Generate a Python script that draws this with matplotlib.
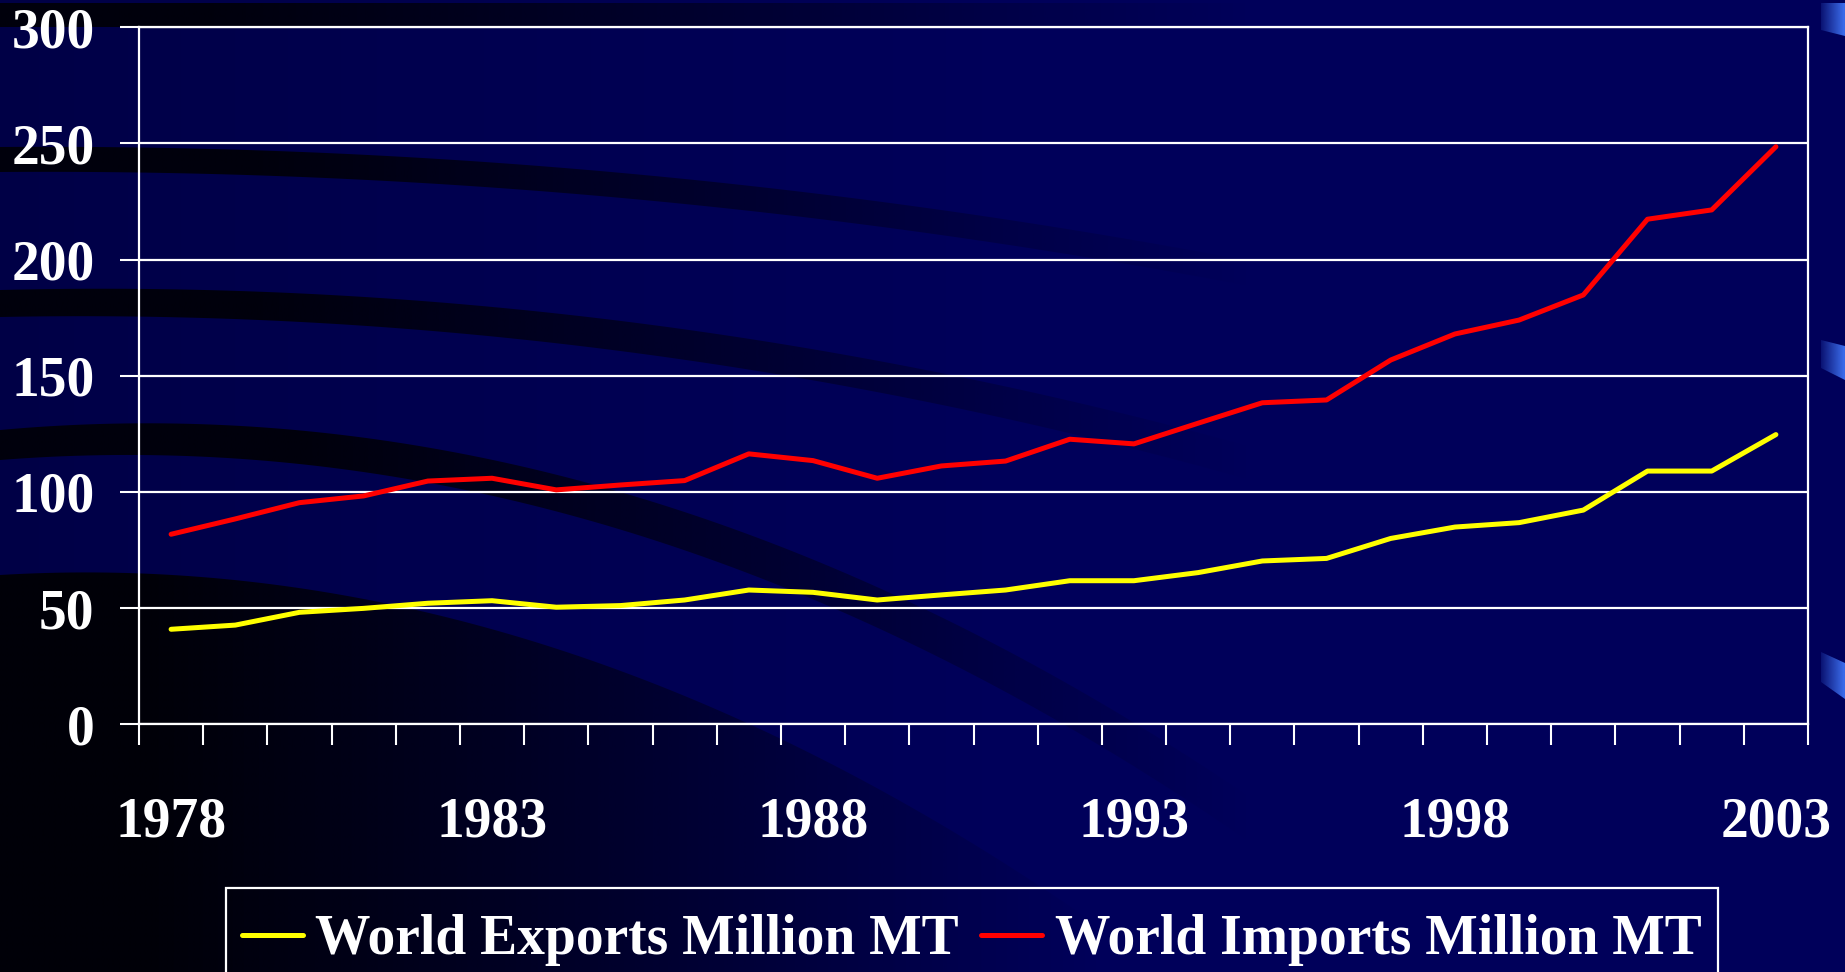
import numpy as np
import matplotlib
matplotlib.use("Agg")
import matplotlib.pyplot as plt
from matplotlib.patches import Polygon, Rectangle
from matplotlib.colors import to_rgb

# values (million metric tons)
years = [1978, 1979, 1980, 1981, 1982, 1983, 1984, 1985, 1986, 1987, 1988, 1989, 1990,
         1991, 1992, 1993, 1994, 1995, 1996, 1997, 1998, 1999, 2000, 2001, 2002, 2003]
exports = [40.9, 42.7, 48.2, 49.9, 52.1, 53.2, 50.4, 51.1, 53.5, 57.8, 56.8, 53.5, 55.7,
           57.8, 61.8, 61.8, 65.3, 70.3, 71.4, 80.0, 84.9, 86.8, 92.2, 109.0, 109.0, 124.7]
imports = [81.8, 88.4, 95.4, 98.3, 104.7, 105.9, 100.9, 103.0, 104.9, 116.4, 113.5, 105.9, 111.2,
           113.3, 122.7, 120.7, 129.6, 138.4, 139.6, 156.8, 168.0, 174.0, 184.8, 217.4, 221.4, 248.6]
year_labels = ['1978', '1983', '1988', '1993', '1998', '2003']
y_ticks = [0, 50, 100, 150, 200, 250, 300]

W, H = 1845, 972
NAVY = '#00005a'
FONT = dict(family='Liberation Serif', weight='bold', size=40, color='white')


def shade(ax, pts_top, pts_bot, color, a0, a1, x0, x1):
    """fill a band with a horizontal alpha ramp (background decoration)"""
    verts = list(pts_top) + list(pts_bot[::-1])
    poly = Polygon(verts, closed=True, facecolor='none', edgecolor='none')
    ax.add_patch(poly)
    xs = np.linspace(0, W, 600)
    ramp = np.clip((xs - x0) / (x1 - x0), 0, 1)
    img = np.zeros((2, 600, 4))
    img[..., :3] = to_rgb(color)
    img[..., 3] = a0 + (a1 - a0) * ramp
    im = ax.imshow(img, extent=(0, W, H, 0), aspect='auto', interpolation='bilinear')
    im.set_clip_path(poly)


def curve(y0, b, c, w0, w1, xmax):
    xs = np.linspace(0, xmax, 100)
    top = y0 + b * xs + c * xs ** 2
    return list(zip(xs, top)), list(zip(xs, top + w0 + w1 * xs))


fig = plt.figure(figsize=(W / 100, H / 100), dpi=100, facecolor=NAVY)

# background swooshes
bg = fig.add_axes([0, 0, 1, 1], zorder=0)
bg.set_facecolor(NAVY)
shade(bg, [(0, 0), (W, 0)], [(0, H), (W, H)], '#000000', 0.22, 0.0, 0, 1000)
shade(bg, [(0, 3), (W, 3)], [(0, 27), (W, 27)], '#00000c', 1.0, 0.0, 200, 1250)
t, b = curve(147, -0.0073, 7.89e-5, 25, 0.0, 1300)
shade(bg, t, b, '#00000c', 1.0, 0.0, 250, 1250)
t, b = curve(290, -0.0245, 1.198e-4, 27, 0.005, 1300)
shade(bg, t, b, '#00000c', 1.0, 0.0, 250, 1250)
t, b = curve(430, -0.0908, 3.077e-4, 30, 0.012, 1250)
shade(bg, t, b, '#00000c', 1.0, 0.0, 300, 1250)
xs = np.linspace(0, 1170, 100)
edge = 575 - 0.0595 * xs + 3.45e-4 * xs ** 2
shade(bg, list(zip(xs, edge)), list(zip(xs, np.full_like(xs, H))),
      '#000008', 1.0, 0.0, 150, 1100)
for top_l, top_r, hgt in ((3, 3, 27), (340, 346, 28), (652, 663, 30)):
    shade(bg, [(1821, top_l), (1845, top_r)], [(1821, top_l + hgt), (1845, top_r + hgt + 6)],
          '#3a6ae8', 0.0, 1.0, 1818, 1845)
bg.set_xlim(0, W)
bg.set_ylim(H, 0)
bg.axis('off')

# main chart
ax = fig.add_axes([139 / W, (H - 724.3) / H, (1808 - 139) / W, (724.3 - 27.3) / H], zorder=1)
ax.set_facecolor('none')
x = np.arange(len(years))
ax.plot(x, exports, color='#ffff00', lw=3.6, solid_capstyle='round',
        label='World Exports Million MT', zorder=3)
ax.plot(x, imports, color='#ff0000', lw=3.6, solid_capstyle='round',
        label='World Imports Million MT', zorder=3)

ax.set_xlim(-0.5, len(years) - 0.5)
ax.set_ylim(0, 300)
ax.set_yticks(y_ticks)
ax.set_yticklabels([str(v) for v in y_ticks], fontdict=FONT)
ax.set_xticks([years.index(int(s)) for s in year_labels])
ax.set_xticklabels(year_labels, fontdict=FONT)
ax.set_xticks(np.arange(-0.5, len(years)), minor=True)
ax.tick_params(axis='x', which='major', length=0, pad=52)
ax.tick_params(axis='x', which='minor', length=15, width=1.5, color='white', direction='out')
ax.tick_params(axis='y', which='major', length=14, width=1.5, color='white', direction='out', pad=18)
ax.yaxis.grid(True, color='white', lw=1.6)
ax.set_axisbelow(True)
for s in ax.spines.values():
    s.set_color('white')
    s.set_linewidth(1.6)

# legend without frame, box drawn around it afterwards
leg = fig.legend(loc='upper left', bbox_to_anchor=(242 / W, 1 - 914 / H), ncol=2,
                 prop=dict(family='Liberation Serif', weight='bold', size=40),
                 frameon=False, handlelength=1.1, handletextpad=0.22, columnspacing=0.4,
                 borderpad=0, borderaxespad=0)
for txt in leg.get_texts():
    txt.set_color('white')
fig.canvas.draw()
bb = leg.get_window_extent()
box = Rectangle((bb.x0 - 16, bb.y0 - 60), bb.width + 16 + 17, bb.height + 60 + 26,
                transform=None, fill=False, edgecolor='white', lw=1.6, zorder=5)
fig.add_artist(box)

fig.savefig('out.png', dpi=100, facecolor=NAVY)
